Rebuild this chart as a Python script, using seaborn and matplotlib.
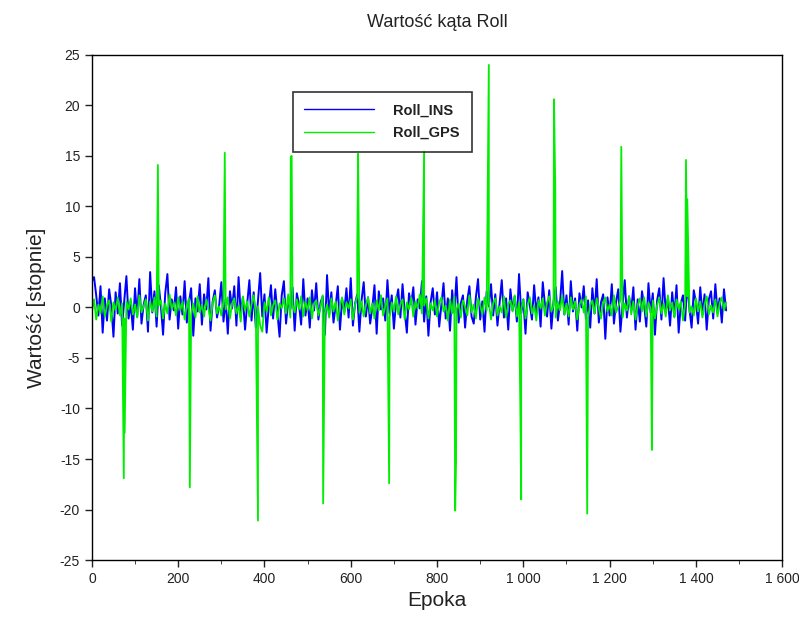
import matplotlib
matplotlib.use("Agg")
import matplotlib.pyplot as plt
import matplotlib.ticker as mticker
import seaborn as sns
import pandas as pd
import numpy as np

# epochs are sampled every 5 epochs for the noise part
step = 5

roll_ins = [
    2.6, 3.0, 1.2, -0.8, 2.1, -2.5, 0.9, -1.3, 1.8, 0.2, -2.9, 1.5, -0.6, 2.4, -1.8, 0.7, 3.1, -1.1, 0.4, -2.2,
    1.9, -0.9, 2.8, -1.6, 0.3, 1.2, -2.4, 3.5, -0.5, 1.6, -1.9, 2.2, 0.1, -2.7, 1.4, 3.3, -1.2, 0.8, -0.3, 2.0,
    -2.1, 1.1, -0.7, 2.6, -1.5, 0.5, 1.9, -2.8, 0.9, -0.4, 2.3, -1.7, 1.3, -0.2, 2.9, -2.3, 0.6, 1.7, -1.0, 0.2,
    2.5, -1.4, 0.8, -2.6, 1.6, -0.1, 2.1, -1.8, 3.0, -0.6, 1.0, -2.2, 0.4, 2.7, -1.3, 1.5, -2.0, 0.7, 3.4, -0.9,
    1.3, -2.5, 0.1, 2.2, -1.1, 1.8, -0.5, -2.9, 1.2, 2.6, -1.6, 0.6, -0.2, 2.0, -2.3, 1.4, 0.3, -1.7, 2.8, -0.8,
    0.9, -2.0, 1.7, -0.3, 2.4, -1.2, 0.5, 1.1, -2.7, 3.2, -0.7, 1.5, -1.5, 0.2, 2.1, -2.2, 0.8, -0.4, 1.9, -1.0,
    2.9, -1.8, 0.4, 1.3, -2.4, 0.7, 2.5, -0.9, 1.0, -1.6, 0.0, 2.2, -2.6, 1.6, -0.2, 0.9, -1.3, 2.7, -0.6, 1.2,
    -2.1, 0.6, 1.8, -1.0, 2.3, -0.4, -2.5, 1.4, 0.3, 2.0, -1.7, 0.8, -0.1, 2.6, -1.4, 1.1, -2.8, 0.5, 1.9, -0.7,
    1.5, -1.9, 0.2, 2.4, -1.1, 0.9, -2.3, 1.7, -0.5, 3.0, -1.5, 0.4, 1.2, -2.0, 0.7, 2.1, -0.9, -1.6, 1.0, 2.8,
    -1.2, 0.6, -2.4, 1.6, 0.1, 2.3, -0.8, 1.3, -1.8, 0.5, 2.7, -1.0, 0.9, -2.2, 1.8, -0.3, 1.1, -1.4, 3.3, -0.6,
    0.8, -2.6, 1.5, 0.2, -1.2, 2.2, -0.5, 1.0, -1.9, 2.5, 0.3, -0.9, 1.7, -2.1, 0.6, 2.0, -1.3, 0.4, 3.6, -0.7,
    1.2, -1.7, 2.6, -0.4, 0.9, -2.3, 1.4, 0.0, 2.1, -1.1, 0.7, -2.0, 1.9, -0.6, 2.8, -1.5, 0.5, 1.3, -3.1, 1.0,
    -0.8, 2.3, -1.6, 0.6, 1.8, -2.4, 0.3, 2.7, -1.0, 1.1, -0.3, 2.0, -2.2, 0.8, -1.4, 1.6, 0.2, -1.9, 2.4, -0.5,
    1.4, -2.7, 0.7, 1.9, -1.2, 2.9, -0.4, 0.9, -1.8, 1.5, -0.9, 2.2, -2.5, 0.4, 1.2, -1.3, 2.6, -0.2, -2.0, 1.7,
    0.5, -1.6, 2.0, -0.7, 1.3, -2.2, 0.8, 1.6, -1.1, 2.3, -0.5, 0.9, -1.5, 1.8, -0.3,
]

roll_gps = [
    -0.4, 0.8, -1.2, 0.3, -0.6, 1.1, -0.9, 0.2, 0.7, -1.4, 0.5, -0.3, 1.0, -0.8, 0.4, -1.1, 0.6, -0.2, 0.9, -0.7,
    0.3, -1.0, 1.2, -0.5, 0.1, 0.8, -1.3, 0.6, -0.4, 1.0, -0.9, 0.2, 0.7, -1.1, 0.4, -0.6, 1.3, -0.2, 0.5, -0.8,
    1.0, -0.3, 0.6, -1.2, 0.2, 0.9, -0.7, 0.4, -1.0, 1.1, -0.5, 0.3, -0.9, 0.8, -0.1, -1.3, 0.5, 1.2, -0.6, 0.1,
    -0.8, 0.7, -0.2, 1.0, -1.1, 0.4, 0.9, -0.6, 0.2, -1.4, 1.1, -0.3, 0.6, -0.9, 0.3, 1.2, -0.7, 0.1, -1.8, -2.4,
    0.5, -0.4, 1.0, -0.8, 0.2, 0.7, -1.2, 0.4, -0.1, 0.9, -0.6, 1.3, -1.0, 0.3, -0.5, 0.8, -0.2, 1.1, -0.9, 0.6,
    -0.3, 1.0, -1.1, 0.4, 0.7, -0.8, 0.1, 1.2, -0.6, 0.3, -1.0, 0.9, -0.4, 0.6, -1.3, 0.2, 1.0, -0.7, 0.5, -0.1,
    0.8, -1.2, 0.3, 1.1, -0.5, 0.6, -0.9, 0.2, 1.0, -0.6, 0.4, -1.1, 0.7, -0.3, 1.2, -0.8, 0.1, 0.9, -1.0, 0.5,
    -0.4, 1.1, -0.7, 0.3, 0.8, -1.2, 0.5, -0.2, 1.0, -0.9, 0.6, -0.1, 1.3, -0.6, 0.2, 0.9, -1.1, 0.4, -0.3, 0.7,
    -0.9, 0.5, 1.0, -0.4, 0.2, -1.3, 0.8, -0.6, 1.1, -0.2, 0.4, -1.0, 0.7, 0.1, -0.8, 1.2, -0.5, 0.3, -1.1, 0.9,
    0.2, -0.7, 1.0, -0.3, 0.6, -1.2, 0.4, 0.9, -0.8, 0.1, -0.5, 1.1, -1.0, 0.3, 0.7, -0.4, 1.2, -0.9, 0.5, -0.2,
    0.8, -1.1, 0.3, 1.0, -0.6, 0.2, -1.3, 0.7, -0.1, 0.9, -0.8, 0.5, 1.1, -0.4, 0.2, -1.0, 0.6, -0.3, 1.2, -0.7,
    0.4, -0.9, 1.0, -0.2, 0.6, -1.2, 0.3, 0.8, -0.5, 1.1, -1.0, 0.2, 0.7, -0.6, 0.9, -0.1, -1.1, 0.5, 1.0, -0.4,
    0.3, -0.8, 1.2, -0.5, 0.1, 0.7, -1.0, 0.4, -0.3, 1.1, -0.7, 0.6, -1.2, 0.2, 0.9, -0.4, 1.0, -0.9, 0.5, -0.1,
    0.7, -1.1, 0.2, 1.0, -0.6, 0.4, -0.9, 1.2, -0.3, 0.5, -1.0, 0.8, -0.2, 0.6, -1.3, 0.3, 1.1, -0.5, 0.1, -0.8,
    0.9, -0.4, 0.6, -1.0, 0.3, 1.1, -0.7, 0.2, -0.5, 0.8, -0.9, 0.4, 1.0, -0.3, 0.5,
]

# single-epoch outliers in the GPS roll
spike_epoch = [74, 76, 153, 227, 308, 385, 461, 463, 536, 615, 617, 689, 770,
               842, 844, 920, 993, 995, 1071, 1074, 1148, 1227, 1296, 1298, 1377, 1380]
spike_value = [-16.9, -12.4, 14.1, -17.8, 15.3, -21.1, 14.9, 15.0, -19.4, 5.8, 15.2, -17.4, 15.5,
               -20.1, -15.4, 24.0, -9.8, -19.0, 20.6, 11.8, -20.4, 15.9, -4.3, -14.1, 14.6, 10.7]

epochs = np.arange(len(roll_ins)) * step
ins_df = pd.DataFrame({"Epoka": epochs, "Roll": roll_ins})
gps_df = pd.concat([
    pd.DataFrame({"Epoka": np.arange(len(roll_gps)) * step, "Roll": roll_gps}),
    pd.DataFrame({"Epoka": spike_epoch, "Roll": spike_value}),
]).sort_values("Epoka")

sns.set_style("ticks")
plt.rcParams['font.family'] = ['Liberation Sans', 'DejaVu Sans']
plt.rcParams['axes.unicode_minus'] = False

fig = plt.figure(figsize=(7.99, 6.30), dpi=100)
ax = fig.add_axes([0.115, 0.111, 0.864, 0.802])

sns.lineplot(data=ins_df, x="Epoka", y="Roll", color="#0000ff", linewidth=1.4,
             estimator=None, sort=False, label="Roll_INS", ax=ax)
sns.lineplot(data=gps_df, x="Epoka", y="Roll", color="#00ee00", linewidth=1.3,
             estimator=None, sort=False, label="Roll_GPS", ax=ax)

ax.set_xlim(0, 1600)
ax.set_ylim(-25, 25)
ax.set_xticks(range(0, 1601, 200))
ax.xaxis.set_minor_locator(mticker.MultipleLocator(100))
ax.set_yticks(range(-25, 26, 5))
ax.xaxis.set_major_formatter(mticker.FuncFormatter(lambda v, p: f"{int(v):,}".replace(",", " ")))
ax.tick_params(axis="both", direction="out", labelsize=10, length=5, width=1, colors="#222222")
ax.tick_params(axis="x", which="minor", direction="out", length=3)
for s in ax.spines.values():
    s.set_visible(True)
    s.set_linewidth(1.0)
    s.set_color("black")

ax.set_title("Wartość kąta Roll", fontsize=13, pad=20, color="#222222")
ax.set_xlabel("Epoka", fontsize=15, color="#222222")
ax.set_ylabel("Wartość [stopnie]", fontsize=15, color="#222222", labelpad=10)

leg = ax.legend(loc="upper left", bbox_to_anchor=(0.291, 0.927), borderaxespad=0,
                frameon=True, fancybox=False, edgecolor="black", fontsize=10.5,
                handlelength=4.8, handletextpad=1.3, borderpad=0.8, labelspacing=0.6)
leg.get_frame().set_linewidth(1.2)
for t in leg.get_texts():
    t.set_fontweight("bold")
    t.set_color("#222222")
for h in leg.get_lines():
    h.set_linewidth(1.0)

fig.savefig("out.png", dpi=100)
